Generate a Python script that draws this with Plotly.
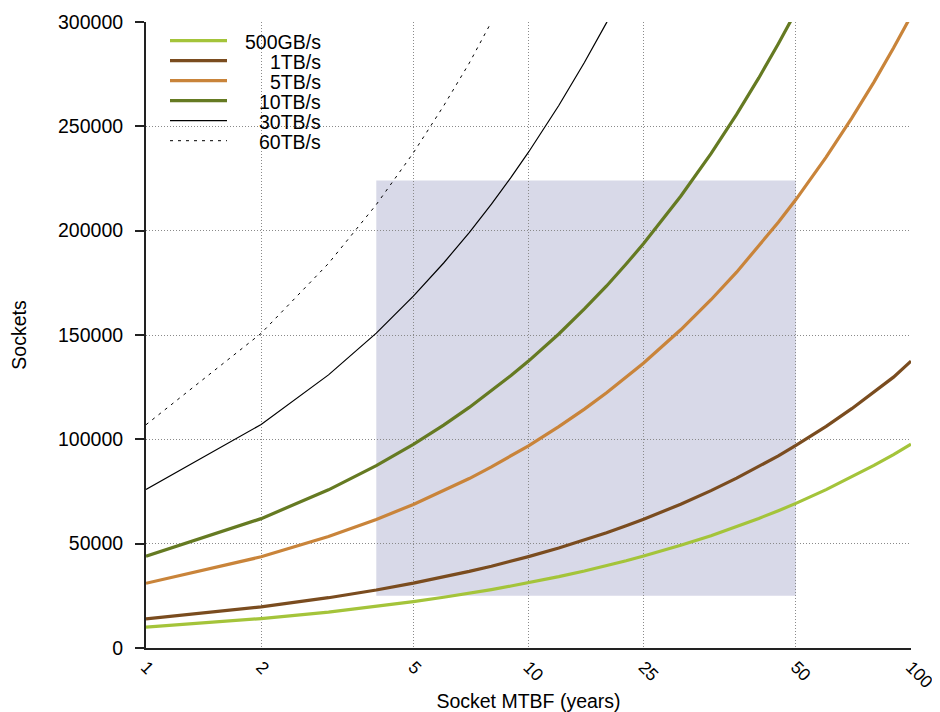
import plotly.graph_objects as go

# ---- data ----
mtbf = [1, 2, 3, 4, 5, 6, 7, 8, 9, 10, 12, 14, 16, 18, 20, 25, 30, 35, 40, 45, 50, 60, 70, 80, 90, 100]

s_500gb = [10000, 14100, 17200, 19900, 22200, 24300, 26200, 28000, 29700, 31300, 34200, 36900, 39400,
           41800, 44100, 49200, 53800, 58100, 62100, 65800, 69300, 75900, 81900, 87500, 92700, 97700]
s_1tb = [14000, 19700, 24100, 27800, 31100, 34000, 36700, 39200, 41500, 43800, 47900, 51700, 55200,
         58600, 61700, 68900, 75400, 81400, 86900, 92100, 97100, 106200, 114700, 122500, 129800, 137500]
s_5tb = [31000, 43700, 53400, 61600, 68800, 75300, 81200, 86800, 92000, 96900, 106100, 114500, 122300,
         129600, 136600, 152500, 166900, 180100, 192500, 204000, 214900, 235200, 253900, 271200, 287500, 302900]
s_10tb = [44000, 62000, 75800, 87400, 97600, 106800, 115300, 123200, 130600, 137500, 150500, 162500, 173500,
          184000, 193800, 216500, 236900, 255700, 273200, 289600, 305000]
s_30tb = [76000, 107100, 130900, 150900, 168600, 184500, 199100, 212700, 225500, 237600, 260000, 280600,
          299700, 317800]
s_60tb = [107000, 150800, 184300, 212500, 237300, 259800, 280300, 299500, 317500]

series_names = ["500GB/s", "1TB/s", "5TB/s", "10TB/s", "30TB/s", "60TB/s"]
series_vals = [s_500gb, s_1tb, s_5tb, s_10tb, s_30tb, s_60tb]

x_tickvals = [1, 2, 5, 10, 20, 50, 100]
x_ticktext = ["1", "2", "5", "10", "25", "50", "100"]
y_tickvals = [0, 50000, 100000, 150000, 200000, 250000, 300000]
y_ticktext = ["0", "50000", "100000", "150000", "200000", "250000", "300000"]

shade_x = [4, 50]
shade_y = [25000, 224000]

# ---- styles ----
colors = ["#a4c43a", "#7a4c1f", "#c9843a", "#657a22", "#000000", "#000000"]
widths = [3.2, 3.2, 3.2, 3.2, 1.2, 1.0]
dashes = ["solid", "solid", "solid", "solid", "solid", "3px,5px"]

FONT = "Liberation Sans, Arial, sans-serif"
FS = 19.5
FS_XT = 17.5

# the page places the figure 8px from the window's top-left corner
OFF = 8
W, H = 940 - OFF, 712 - OFF
# plot area in window pixels: x 146..911, y 22..648
L, R, T, B = 146 - OFF, 940 - 911, 22 - OFF, 712 - 648
pw, ph = W - L - R, H - T - B


def px2paper_x(px):  # window px -> paper
    return (px - OFF - L) / pw


def px2paper_y(py):
    return (H - B - (py - OFF)) / ph


fig = go.Figure()

for name, vals, c, w, d in zip(series_names, series_vals, colors, widths, dashes):
    fig.add_trace(go.Scatter(
        x=mtbf[:len(vals)], y=vals, mode="lines", name=name,
        line=dict(color=c, width=w, dash=d), showlegend=False,
        cliponaxis=True,
    ))

shapes = [dict(type="rect", xref="x", yref="y", x0=shade_x[0], x1=shade_x[1],
               y0=shade_y[0], y1=shade_y[1], fillcolor="#d8d9e8",
               line=dict(width=0), layer="below")]
annotations = []

# manual legend (right-aligned labels, as in the reference)
for i, (name, c, w, d) in enumerate(zip(series_names, colors, widths, dashes)):
    py = 40.7 + 20 * i
    shapes.append(dict(type="line", xref="paper", yref="paper",
                       x0=px2paper_x(170), x1=px2paper_x(227),
                       y0=px2paper_y(py), y1=px2paper_y(py),
                       line=dict(color=c, width=w, dash=d), layer="above"))
    annotations.append(dict(xref="paper", yref="paper", x=px2paper_x(323), y=px2paper_y(py + 1),
                            text=name, showarrow=False, xanchor="right", yanchor="middle",
                            font=dict(family=FONT, size=FS, color="#000000")))

fig.update_layout(
    width=W, height=H,
    margin=dict(l=L, r=R, t=T, b=B, pad=0, autoexpand=False),
    paper_bgcolor="white", plot_bgcolor="white",
    font=dict(family=FONT, size=FS, color="#000000"),
    shapes=shapes, annotations=annotations,
    showlegend=False,
)

fig.update_xaxes(
    type="log", range=[0, 2], automargin=False,
    tickvals=x_tickvals, ticktext=x_ticktext, tickangle=45,
    ticks="", showline=True, linecolor="#222222", linewidth=2,
    showgrid=True, gridcolor="#8a8a8a", griddash="1px,2px", gridwidth=1,
    zeroline=False,
    title=dict(text="Socket MTBF (years)", standoff=34, font=dict(family=FONT, size=FS)),
    tickfont=dict(family=FONT, size=FS_XT),
)
fig.update_yaxes(
    range=[0, 300000], tickvals=y_tickvals, ticktext=y_ticktext, automargin=False,
    ticks="outside", ticklen=9, tickwidth=2, tickcolor="#222222",
    showline=True, linecolor="#222222", linewidth=2,
    showgrid=True, gridcolor="#8a8a8a", griddash="1px,2px", gridwidth=1,
    zeroline=False, ticklabelstandoff=8,
    title=dict(text="Sockets", standoff=36, font=dict(family=FONT, size=FS)),
    tickfont=dict(family=FONT, size=FS),
)

fig.write_html("out.html")
